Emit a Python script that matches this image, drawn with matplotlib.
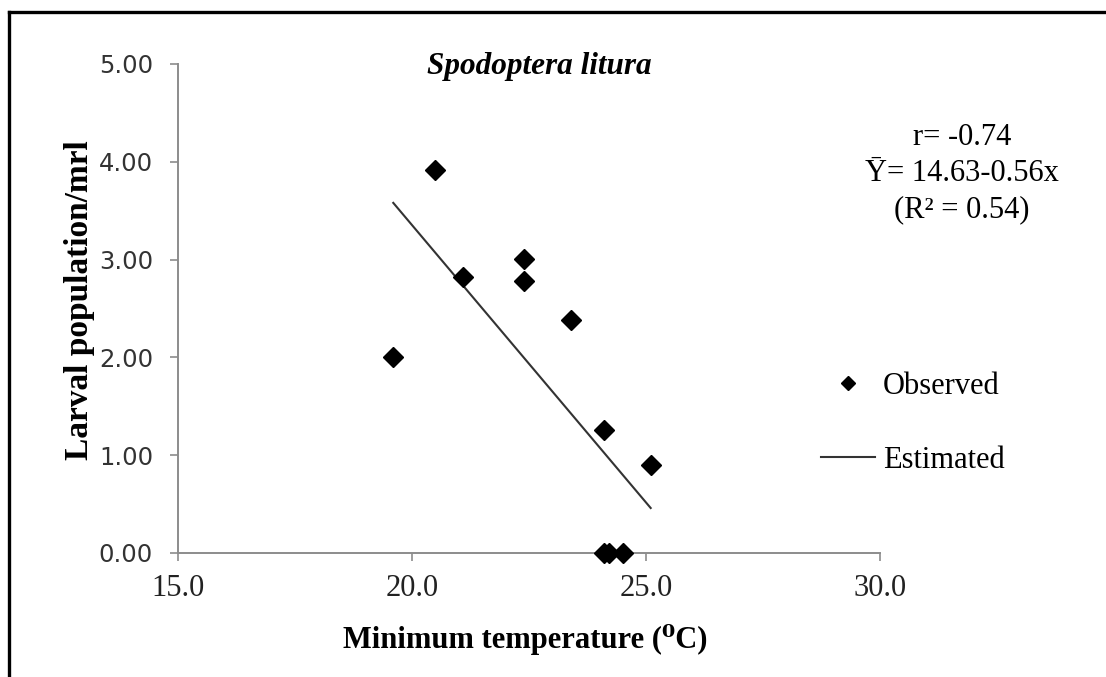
import matplotlib
matplotlib.use("Agg")
import matplotlib.pyplot as plt
from matplotlib.lines import Line2D

# ---- data ----
obs_x = [19.6, 20.5, 21.1, 22.4, 22.4, 23.4, 24.1, 25.1, 24.1, 24.2, 24.5]
obs_y = [2.00, 3.92, 2.82, 3.01, 2.78, 2.38, 1.26, 0.90, 0.00, 0.00, 0.00]
est_x = [19.6, 25.1]
est_y = [3.58, 0.46]
x_ticks = [15.0, 20.0, 25.0, 30.0]
y_ticks = [0.0, 1.0, 2.0, 3.0, 4.0, 5.0]
title = "Spodoptera litura"
x_label = "Minimum temperature (\u2070C)"
y_label = "Larval population/mrl"
stats_lines = ["r= -0.74", "\u0232= 14.63-0.56x", "(R\u00b2 = 0.54)"]

W, H = 1106, 677
fig = plt.figure(figsize=(W / 100, H / 100), dpi=100)
fig.patch.set_facecolor("white")

def fx(px):
    return px / W

def fy(py):
    return 1 - py / H

ax = fig.add_axes([fx(178), fy(553), fx(880) - fx(178), fy(64) - fy(553)])
serif = ["Liberation Serif", "DejaVu Serif"]

ax.plot(est_x, est_y, color="#333333", lw=1.5, label="Estimated", zorder=2)
ax.plot(obs_x, obs_y, linestyle="none", marker="D", markersize=10,
        color="black", label="Observed", zorder=3, clip_on=False)

ax.set_xlim(15, 30)
ax.set_ylim(0, 5)
ax.set_xticks(x_ticks)
ax.set_yticks(y_ticks)
ax.set_xticklabels([f"{v:.1f}" for v in x_ticks], fontfamily=serif, fontsize=22, color="#222222")
ax.set_yticklabels([f"{v:.2f}" for v in y_ticks], fontfamily="DejaVu Sans", fontsize=17.5, color="#333333")

for s in ["top", "right"]:
    ax.spines[s].set_visible(False)
for s in ["left", "bottom"]:
    ax.spines[s].set_color("#8c8c8c")
    ax.spines[s].set_linewidth(1.4)
ax.tick_params(axis="x", direction="out", length=6, width=1.2, color="#8c8c8c", pad=9)
ax.tick_params(axis="y", direction="out", length=6, width=1.2, color="#8c8c8c", pad=12)

# labels
fig.text(fx(539), fy(74), title, fontfamily=serif, fontstyle="italic",
         fontweight="bold", fontsize=22.5, ha="center", va="baseline")
fig.text(fx(525), fy(648), x_label, fontfamily=serif, fontweight="bold",
         fontsize=22, ha="center", va="baseline")
fig.text(fx(80), fy(300), y_label, fontfamily=serif, fontweight="bold",
         fontsize=24, ha="center", va="center", rotation=90)

for i, line in enumerate(stats_lines):
    fig.text(fx(962), fy(145 + 36 * i), line, fontfamily=serif,
             fontsize=22, ha="center", va="baseline")

# legend
handles = [Line2D([], [], linestyle="none", marker="D", markersize=7.5, color="black"),
           Line2D([], [], color="#333333", lw=1.5)]
leg = fig.legend(handles, ["Observed", "Estimated"], loc="upper left",
                 bbox_to_anchor=(fx(821), fy(372)), frameon=False,
                 prop={"family": serif, "size": 22}, handlelength=1.77,
                 handletextpad=0.26, labelspacing=1.47, borderpad=0,
                 borderaxespad=0)

# outer frame (left and top only)
fig.add_artist(Line2D([fx(9), fx(9)], [fy(12), 0], color="black", lw=2.4,
                      transform=fig.transFigure))
fig.add_artist(Line2D([fx(9), 1], [fy(12), fy(12)], color="black", lw=2.4,
                      transform=fig.transFigure))

fig.savefig("out.png", dpi=100)
